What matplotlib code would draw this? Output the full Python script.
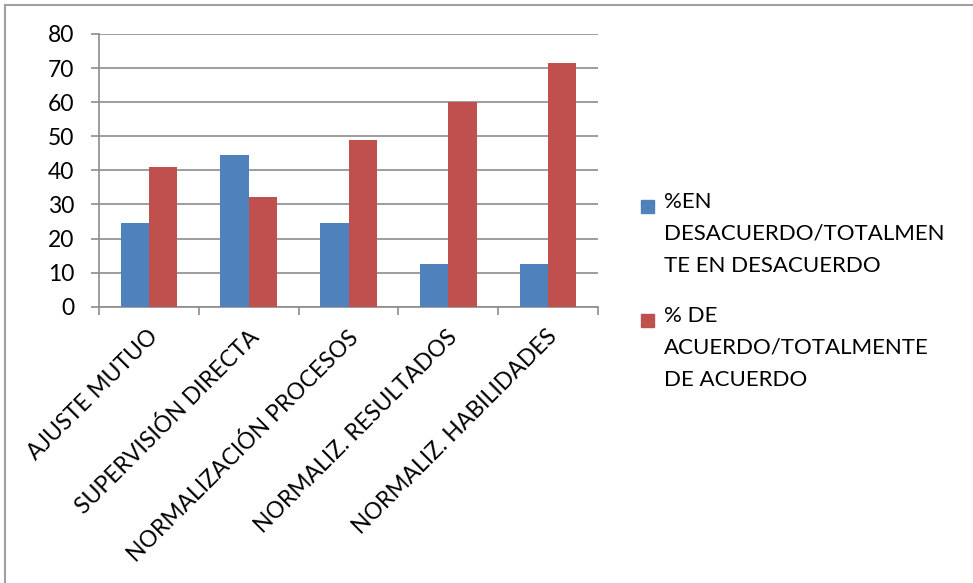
import numpy as np
import matplotlib.pyplot as plt
from matplotlib.lines import Line2D
from matplotlib.patches import Rectangle

plt.rcParams["font.family"] = ["Lato", "DejaVu Sans"]

categories = ["AJUSTE MUTUO", "SUPERVISIÓN DIRECTA", "NORMALIZACIÓN PROCESOS",
              "NORMALIZ. RESULTADOS", "NORMALIZ. HABILIDADES"]
desacuerdo = [24.6, 44.4, 24.6, 12.4, 12.4]
acuerdo = [41.0, 32.1, 49.0, 60.0, 71.5]
series_labels = ["%EN\nDESACUERDO/TOTALMEN\nTE EN DESACUERDO",
                 "% DE\nACUERDO/TOTALMENTE\nDE ACUERDO"]
yticks = [0, 10, 20, 30, 40, 50, 60, 70, 80]

C_BLUE = "#4F81BD"
C_RED = "#C0504D"
C_GRID = "#8C8C8C"

fig = plt.figure(figsize=(9.73, 5.83), dpi=100)
ax = fig.add_axes([99 / 973, 1 - 306.7 / 583, 499 / 973, 272.7 / 583])

x = np.arange(len(categories))
w = 0.284
ax.bar(x - w / 2, desacuerdo, w, color=C_BLUE, zorder=3)
ax.bar(x + w / 2, acuerdo, w, color=C_RED, zorder=3)

ax.set_xlim(-0.5, len(categories) - 0.5)
ax.set_ylim(0, 80)
ax.set_yticks(yticks)
ax.set_yticklabels([str(v) for v in yticks], fontsize=16.5)
ax.yaxis.grid(True, color=C_GRID, linewidth=1.2, zorder=0)
ax.set_axisbelow(True)

# category boundaries as x ticks (outward)
ax.set_xticks(np.arange(len(categories) + 1) - 0.5)
ax.set_xticklabels([])
ax.tick_params(axis="x", length=6, color=C_GRID, width=1.2, direction="out")
ax.tick_params(axis="y", length=6, color=C_GRID, width=1.2, direction="out", pad=12)
for s in ["top", "right"]:
    ax.spines[s].set_visible(False)
for s in ["left", "bottom"]:
    ax.spines[s].set_color(C_GRID)
    ax.spines[s].set_linewidth(1.2)

# rotated category labels
for xi, lab in zip(x, categories):
    ax.annotate(lab, xy=(xi, 0), xycoords=("data", "axes fraction"),
                xytext=(-1, -14), textcoords="offset points",
                rotation=45, rotation_mode="anchor", ha="right", va="top",
                fontsize=16.5)

# legend drawn by hand (marker aligned with first line)
for i, (lab, c) in enumerate(zip(series_labels, [C_BLUE, C_RED])):
    ytop = 1 - (192 + i * 114) / 583
    ysq = 1 - (213 + i * 114) / 583
    fig.patches.append(Rectangle((641 / 973, ysq), 13 / 973, 13 / 583,
                                 transform=fig.transFigure, color=c))
    fig.text(664 / 973, ytop, lab, fontsize=16, va="top", ha="left",
             linespacing=1.75, transform=fig.transFigure)

# outer frame (top and left only)
fig.add_artist(Line2D([5 / 973, 1], [1 - 5 / 583, 1 - 5 / 583], color="#A0A0A0",
                      linewidth=1.5, transform=fig.transFigure))
fig.add_artist(Line2D([5 / 973, 5 / 973], [0, 1 - 5 / 583], color="#A0A0A0",
                      linewidth=1.5, transform=fig.transFigure))

fig.savefig("out.png", dpi=100)
